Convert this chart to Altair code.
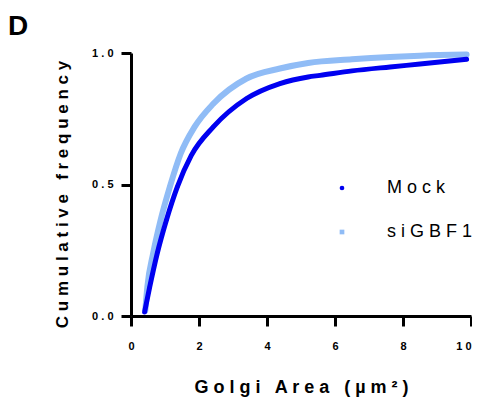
import altair as alt
import pandas as pd

mock_x = [0.40, 0.55, 0.77, 1.04, 1.36, 1.77, 2.42, 3.40, 4.38, 5.21, 5.56, 6.50, 7.62, 8.50, 9.87]
mock_y = [0.015, 0.11, 0.237, 0.364, 0.49, 0.61, 0.719, 0.827, 0.884, 0.909, 0.915, 0.932, 0.947, 0.958, 0.976]

sig_x = [0.42, 0.48, 0.65, 0.87, 1.14, 1.46, 1.87, 2.42, 3.40, 4.38, 5.21, 6.50, 7.62, 8.50, 9.87]
sig_y = [0.02, 0.11, 0.237, 0.364, 0.49, 0.617, 0.719, 0.807, 0.903, 0.941, 0.962, 0.976, 0.985, 0.990, 0.994]

series = ["Mock", "siGBF1"]
colors = ["#0000F0", "#90BCF6"]
shapes = ["circle", "square"]
x_ticks = [0, 2, 4, 6, 8, 10]
y_ticks = [0.0, 0.5, 1.0]

mock = pd.DataFrame({"area": mock_x, "freq": mock_y, "group": "Mock"})
sig = pd.DataFrame({"area": sig_x, "freq": sig_y, "group": "siGBF1"})

FONT = "Arial, Liberation Sans, sans-serif"
spaced = "join(split(datum.label, ''), ' ')"
GAP = " \u00a0 "

x_title = "G o l g i" + GAP + "A r e a" + GAP + "( µ m ² )"
y_title = "C u m u l a t i v e" + GAP + "f r e q u e n c y"

x_enc = alt.X("area:Q", scale=alt.Scale(domain=[0, 10], nice=False, zero=False),
              axis=alt.Axis(values=x_ticks, title=x_title, labelExpr=spaced, format="d",
                            titleFontSize=18,
                            labelAlign={"expr": "datum.value == 10 ? 'right' : 'center'"}))
y_enc = alt.Y("freq:Q", scale=alt.Scale(domain=[0, 1], nice=False),
              axis=alt.Axis(values=y_ticks, format=".1f", labelExpr=spaced,
                            title=y_title, titleFontSize=17, titleY=141))

legend = alt.Legend(title=None, orient="none", legendX=202, legendY=126, labelExpr=spaced)
color_enc = alt.Color("group:N", scale=alt.Scale(domain=series, range=colors), legend=legend)
shape_enc = alt.Shape("group:N", scale=alt.Scale(domain=series, range=shapes), legend=legend)

sig_line = alt.Chart(sig).mark_line(strokeWidth=6, interpolate="monotone", strokeCap="round").encode(
    x=x_enc, y=y_enc, color=alt.value(colors[1]))
sig_pts = alt.Chart(sig).mark_point(filled=True, size=16, opacity=1).encode(
    x=x_enc, y=y_enc, color=color_enc, shape=shape_enc)
mock_line = alt.Chart(mock).mark_line(strokeWidth=5, interpolate="monotone", strokeCap="round").encode(
    x=x_enc, y=y_enc, color=alt.value(colors[0]))
mock_pts = alt.Chart(mock).mark_point(filled=True, size=16, opacity=1).encode(
    x=x_enc, y=y_enc, color=color_enc, shape=shape_enc)

chart = alt.layer(sig_line, sig_pts, mock_line, mock_pts).properties(
    width=340, height=263,
    autosize=alt.AutoSizeParams(type="none"),
    padding={"left": 123, "top": 45, "right": 1, "bottom": 81},
    title=alt.TitleParams("D", anchor="start", frame="group", fontSize=28, fontWeight="bold",
                          font=FONT, color="black", dx=-123, offset=2),
).configure_view(stroke=None).configure_axis(
    grid=False, domainColor="black", domainWidth=3, tickColor="black", tickWidth=3,
    tickSize=10, labelFont=FONT, labelFontSize=11, labelFontWeight="bold", labelColor="black",
    titleFont=FONT, titleFontWeight="bold", titleColor="black",
).configure_axisX(labelPadding=14, titlePadding=27, labelFlush=False).configure_axisY(
    labelPadding=8, titlePadding=20
).configure_legend(
    labelFont=FONT, labelFontSize=18, labelColor="black", symbolSize=22, labelOffset=36,
    rowPadding=26, padding=0, symbolStrokeWidth=0
)

chart.save("out.html", embed_options={"renderer": "svg", "actions": False})
